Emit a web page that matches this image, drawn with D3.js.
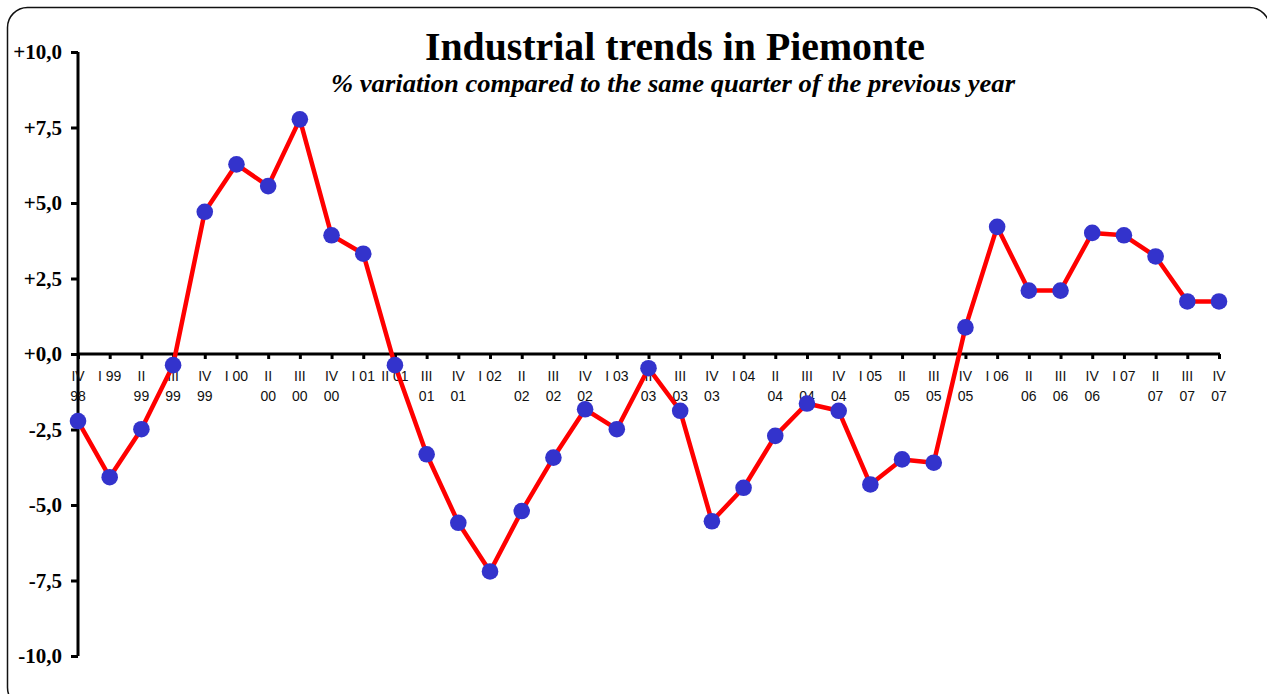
<!DOCTYPE html>
<html>
<head>
<meta charset="utf-8">
<title>Industrial trends in Piemonte</title>
<script src="https://cdn.jsdelivr.net/npm/d3@7"></script>
<style>
  body { margin: 0; background: #fff; }
  svg { display: block; }
</style>
</head>
<body>
<script type="text/javascript">
var quarters = ["IV|98", "I 99", "II|99", "III|99", "IV|99", "I 00", "II|00", "III|00", "IV|00",
                "I 01", "II 01", "III|01", "IV|01", "I 02", "II|02", "III|02", "IV|02",
                "I 03", "II|03", "III|03", "IV|03", "I 04", "II|04", "III|04", "IV|04",
                "I 05", "II|05", "III|05", "IV|05", "I 06", "II|06", "III|06", "IV|06",
                "I 07", "II|07", "III|07", "IV|07"];
var variation = [-2.22, -4.08, -2.49, -0.37, 4.71, 6.28, 5.56, 7.77, 3.93,
                 3.32, -0.37, -3.32, -5.59, -7.20, -5.20, -3.43, -1.83,
                 -2.49, -0.47, -1.88, -5.54, -4.43, -2.71, -1.64, -1.88,
                 -4.32, -3.49, -3.60, 0.88, 4.21, 2.10, 2.10, 4.01,
                 3.93, 3.23, 1.74, 1.74];
var yTicks = [10, 7.5, 5, 2.5, 0, -2.5, -5, -7.5, -10];

var W = 1267, H = 694;
var x_left = 78, x_right = 1219;
var y_top = 52, y_bottom = 656;

function fmtY(v) {
  var s = Math.abs(v).toFixed(1).replace(".", ",");
  return (v < 0 ? "-" : "+") + s;
}

var svg = d3.select("body").append("svg").attr("width", W).attr("height", H);

// rounded frame
svg.append("rect")
  .attr("x", 7.5).attr("y", 7.5)
  .attr("width", 1262).attr("height", 700)
  .attr("rx", 20).attr("ry", 20)
  .style("fill", "none").style("stroke", "#111").style("stroke-width", 1.5);

// titles
svg.append("text")
  .text("Industrial trends in Piemonte")
  .attr("x", 425).attr("y", 60)
  .attr("textLength", 500).attr("lengthAdjust", "spacingAndGlyphs")
  .style("font-family", "'Liberation Serif', 'Times New Roman', serif")
  .style("font-weight", "bold").style("font-size", "41px").style("fill", "#000");

svg.append("text")
  .text("% variation compared to the same quarter of the previous year")
  .attr("x", 331).attr("y", 92)
  .attr("textLength", 684).attr("lengthAdjust", "spacingAndGlyphs")
  .style("font-family", "'Liberation Serif', 'Times New Roman', serif")
  .style("font-weight", "bold").style("font-style", "italic")
  .style("font-size", "25px").style("fill", "#000");

var x = d3.scalePoint().domain(quarters).range([x_left, x_right]);
var y = d3.scaleLinear().domain([-10, 10]).range([y_bottom, y_top]);

// y axis
var yAxis = svg.append("g").attr("transform", "translate(" + x_left + ",0)")
  .call(d3.axisLeft(y).tickValues(yTicks).tickSize(7).tickPadding(9).tickFormat(fmtY));
yAxis.select(".domain").attr("d", "M0," + y_top + "V" + y_bottom)
  .style("stroke", "#000").style("stroke-width", 3);
yAxis.selectAll(".tick line").style("stroke", "#000").style("stroke-width", 3);
yAxis.selectAll(".tick text")
  .style("font-family", "'Liberation Serif', 'Times New Roman', serif")
  .style("font-weight", "bold").style("font-size", "21px").style("fill", "#000");

// x axis on zero line
var xAxis = svg.append("g").attr("transform", "translate(0," + y(0) + ")")
  .call(d3.axisBottom(x).tickSize(5).tickFormat(""));
xAxis.select(".domain").attr("d", "M" + x_left + ",0H" + (x_right + 1))
  .style("stroke", "#000").style("stroke-width", 3);
xAxis.selectAll(".tick line").style("stroke", "#000").style("stroke-width", 3);

var xLabels = svg.append("g").attr("class", "x-labels")
  .selectAll("text").data(quarters).enter().append("text")
  .attr("text-anchor", "middle")
  .attr("transform", function(d) { return "translate(" + x(d) + "," + (y(0) + 27) + ")"; })
  .style("font-family", "'Liberation Sans', Arial, sans-serif")
  .style("font-size", "14px").style("fill", "#111");
xLabels.each(function(d) {
  var parts = d.split("|");
  var t = d3.select(this);
  parts.forEach(function(p, i) {
    t.append("tspan").attr("x", 0).attr("y", i * 20).text(p);
  });
});

// series
var line = d3.line()
  .x(function(d, i) { return x(quarters[i]); })
  .y(function(d) { return y(d); });

svg.append("path").datum(variation)
  .attr("d", line)
  .style("fill", "none").style("stroke", "#ff0000")
  .style("stroke-width", 4.5).style("stroke-linejoin", "round");

svg.append("g").selectAll("circle").data(variation).enter().append("circle")
  .attr("cx", function(d, i) { return x(quarters[i]); })
  .attr("cy", function(d) { return y(d); })
  .attr("r", 8.3)
  .style("fill", "#3333cc");
</script>
</body>
</html>
